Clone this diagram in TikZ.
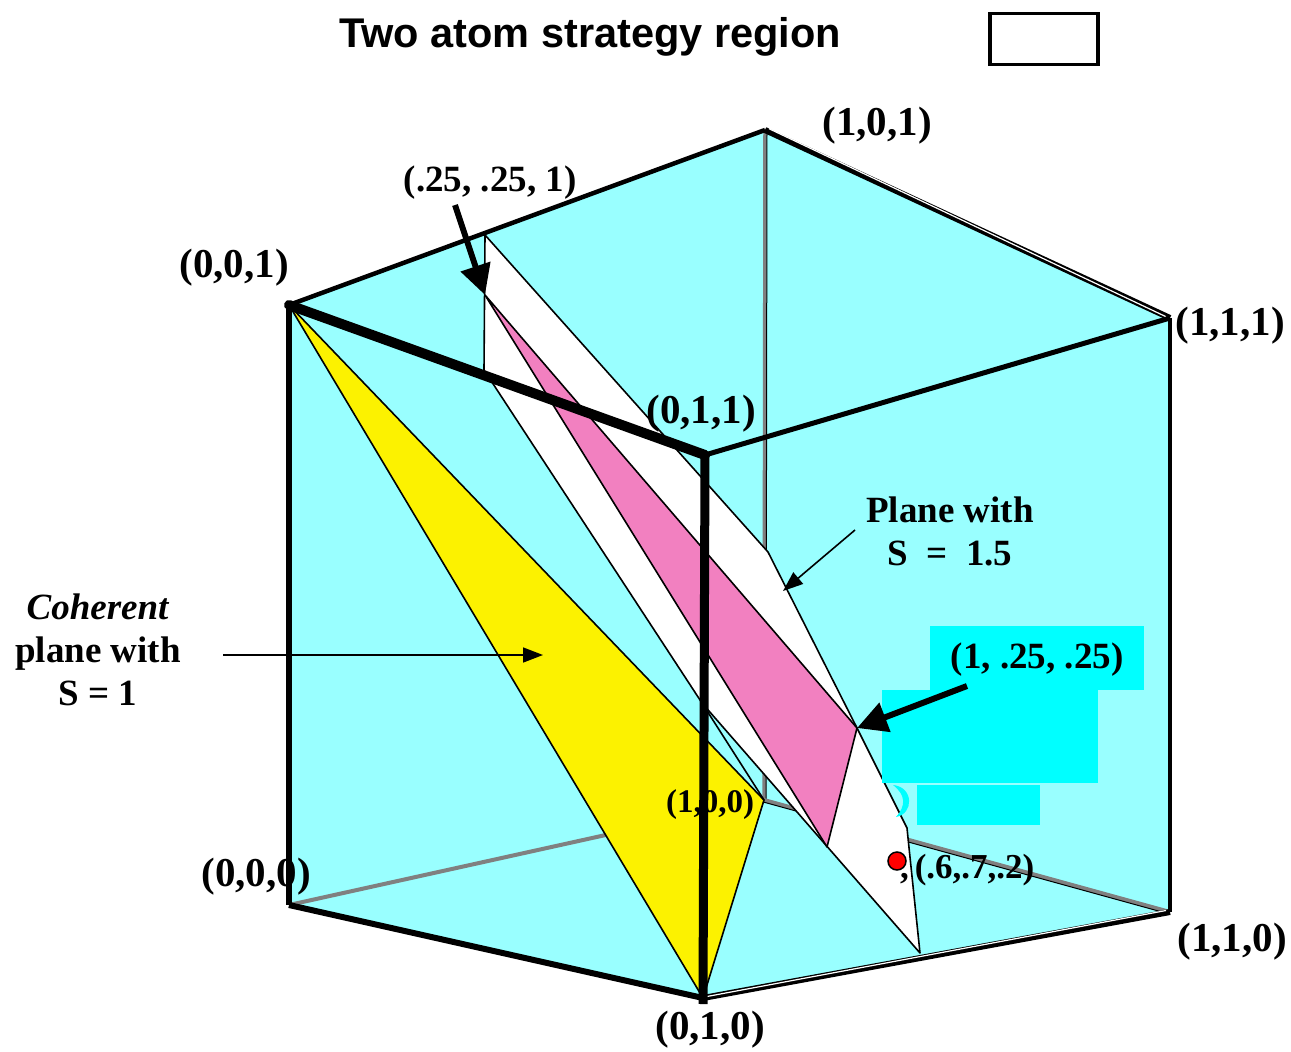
\documentclass[tikz,border=0pt]{standalone}
\usepackage{fontspec}
\setmainfont{Liberation Serif}
\setsansfont{Liberation Sans}
\usetikzlibrary{arrows.meta}
\definecolor{cubecyan}{RGB}{153,255,255}
\definecolor{brightcyan}{RGB}{0,255,255}
\definecolor{yel}{RGB}{252,242,0}
\definecolor{pinkr}{RGB}{242,128,192}
\definecolor{hidgray}{RGB}{128,128,128}
\tikzset{
  lbl/.style={font=\fontsize{37}{43}\selectfont\bfseries, inner sep=0pt},
  vlbl/.style={font=\fontsize{41}{44}\selectfont\bfseries, inner sep=0pt},
  slbl/.style={font=\fontsize{33}{36}\selectfont\bfseries, inner sep=0pt},
  bigarrow/.style={line width=6pt, -{Triangle[length=30pt,width=30pt]}},
  thinarrow/.style={line width=1.6pt, -{Triangle[length=20pt,width=15pt]}},
  region/.style={draw=black, line width=1.6pt, line join=round},
  hidden/.style={draw=hidgray, line width=4pt}
}
\begin{document}
\begin{tikzpicture}[x=1pt,y=-1pt]
\useasboundingbox (0,0) rectangle (1291,1052);
% cube vertices
\coordinate (c001) at (289,305);
\coordinate (c101) at (765,130);
\coordinate (c111) at (1170,318);
\coordinate (c011) at (705,455);
\coordinate (c000) at (289,905);
\coordinate (c010) at (703,998);
\coordinate (c110) at (1170,912);
\coordinate (c100) at (764,800);
% region points
\coordinate (wtop) at (485,235);
\coordinate (wvert) at (484,370);
\coordinate (wkink) at (768,552);
\coordinate (p2) at (857,728);
\coordinate (w3) at (907,828);
\coordinate (w4) at (908,838);
\coordinate (wbot) at (920,953);
\coordinate (wmeet) at (702,703);
\coordinate (p1) at (485,295);
\coordinate (pbot) at (827,847);
\coordinate (red) at (897,861);
% faces
\fill[cubecyan] (c001)--(c101)--(c111)--(c110)--(c010)--(c000)--cycle;
\draw[hidden] (c000)--(c100);
\draw[hidden, line width=3.5pt] (c101)--(c100);
\draw[line width=1pt] ([xshift=2pt]c101)--([xshift=2pt]c100);
\draw[hidden] (c100)--(c110);
\draw[line width=1pt] ([yshift=-2.2pt]c100)--([yshift=-2.2pt]c110);
\filldraw[fill=yel, region] (c001)--(c100)--(c010)--cycle;
\filldraw[fill=white, region] (wtop)--(wkink)--(p2)--(w3)--(w4)--(wbot)--(wmeet)--(wvert)--cycle;
\draw[region] (wmeet)--(c100);
\filldraw[fill=pinkr, region] (p1)--(p2)--(pbot)--cycle;
% cyan boxes
\fill[brightcyan] (930,626) rectangle (1144,690);
\fill[brightcyan] (882,690) rectangle (1098,783);
\fill[brightcyan] (917,785) rectangle (1040,825);
\fill[brightcyan] (893,785) .. controls (914,787) and (914,814) .. (896,817) .. controls (906,806) and (906,795) .. cycle;
% labels
\node[font=\fontsize{41.5}{44}\selectfont\sffamily\bfseries, inner sep=0pt] (title) at (590,37) {Two atom strategy region};
\node[draw, line width=3.5pt, fill=white, minimum width=108pt, minimum height=51pt, inner sep=0pt] (legend) at (1044,39) {};
\node[vlbl] (l101) at (877,126) {(1,0,1)};
\node[vlbl] (l001) at (234,268) {(0,0,1)};
\node[lbl] (l25) at (490,183) {(.25, .25, 1)};
\node[vlbl] (l111) at (1230,326) {(1,1,1)};
\node[vlbl] (l011) at (701,414) {(0,1,1)};
\node[lbl, align=center] (lplane) at (950,531) {Plane with\\S\ \ =\ \ 1.5};
\node[lbl, align=center] (lcoh) at (98,650) {\textit{Coherent}\\plane with\\S = 1};
\node[lbl] (l1225) at (1037,660) {(1, .25, .25)};
\node[slbl] (l100) at (710,805) {(1,0,0)};
\node[vlbl] (l000) at (256,877) {(0,0,0)};
\node[vlbl] (l110) at (1232,942) {(1,1,0)};
\node[vlbl] (l010) at (710,1030) {(0,1,0)};
% front edges
\draw[line width=4.5pt] (c001)--(c101);
\draw[line width=6pt] (c101)--(c111);
\draw[white, line width=1.2pt, transform canvas={yshift=1.3pt}] ([xshift=4pt]c101)--([xshift=-4pt]c111);
\draw[line width=5pt] (c111)--(c011);
\draw[line width=4.5pt] (c111)--(c110);
\draw[line width=6pt] (c110)--(c010);
\draw[white, line width=1.2pt, transform canvas={yshift=1.5pt}] ([xshift=4pt]c010)--([xshift=-4pt]c110);
\draw[line width=6pt] (c001)--(c000);
\draw[line width=6pt] (c000)--(c010);
\draw[line width=10pt, line cap=round] (c001)--(c011);
\draw[line width=9pt] (c011)--([yshift=-6pt]c010);
% red point and its label
\filldraw[fill=red, draw=black, line width=1.5pt] (red) circle (9pt);
\node[font=\fontsize{35}{38}\selectfont\bfseries, inner sep=0pt, anchor=west] (l672) at (900,870) {,\,(.6,.7,.2)};
% arrows
\coordinate (t25) at (455,205);
\coordinate (t1225) at (967,686);
\coordinate (tplane) at (855,530);
\coordinate (hplane) at (783,591);
\coordinate (tcoh) at (223,655);
\coordinate (hcoh) at (543,655);
\draw[bigarrow] (t25)--(p1);
\draw[bigarrow] (t1225)--(p2);
\draw[thinarrow] (tplane)--(hplane);
\draw[thinarrow] (tcoh)--(hcoh);
\end{tikzpicture}
\end{document}
